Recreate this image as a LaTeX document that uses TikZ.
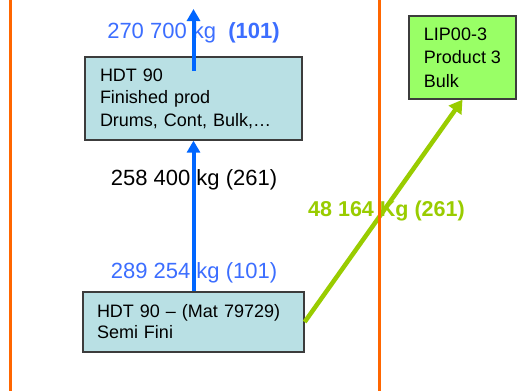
\documentclass[tikz,border=0pt]{standalone}
\usepackage{fontspec}
\setmainfont{Liberation Sans}
\usetikzlibrary{arrows.meta}
\definecolor{orangeline}{RGB}{255,102,0}
\definecolor{arrowblue}{RGB}{0,102,255}
\definecolor{labelblue}{RGB}{60,110,255}
\definecolor{limegreen}{RGB}{153,204,0}
\definecolor{boxfill}{RGB}{185,224,228}
\definecolor{greenfill}{RGB}{153,255,102}
\definecolor{boxborder}{RGB}{60,60,60}
\tikzset{
  basebox/.style={draw=boxborder, line width=1.3pt, align=left, inner ysep=0pt,
    font=\fontsize{18}{22.5}\selectfont},
  tealbox/.style={basebox, fill=boxfill},
  limebox/.style={basebox, fill=greenfill},
  flowlabel/.style={font=\fontsize{22}{25}\selectfont, inner sep=0pt},
  bluearrow/.style={draw=arrowblue, line width=4pt, -{Triangle[length=12pt,width=13pt]}},
  greenarrow/.style={draw=limegreen, line width=4.5pt, -{Triangle[length=13pt,width=15pt]}},
  divider/.style={draw=orangeline, line width=3pt}
}
\begin{document}
\begin{tikzpicture}[x=1pt,y=-1pt]
\useasboundingbox[fill=white] (0,0) rectangle (517,391);
% dividers
\coordinate (d1t) at (10,0); \coordinate (d1b) at (10,391);
\coordinate (d2t) at (379,0); \coordinate (d2b) at (379,391);
% boxes
\node[tealbox, minimum width=217pt, minimum height=83pt, text width=187pt, inner xsep=15pt] (fin) at (193.5,98.5)
  {HDT 90\\Finished prod\\Drums, Cont, Bulk,…};
\node[tealbox, minimum width=221pt, minimum height=60pt, text width=193pt, inner xsep=14pt,
  font=\fontsize{18}{21}\selectfont] (semi) at (193.5,322)
  {HDT 90 – (Mat 79729)\\Semi Fini};
\node[limebox, minimum width=107pt, minimum height=83pt, inner xsep=0pt,
  font=\fontsize{18}{23.5}\selectfont] (lip) at (462.5,57.5)
  {LIP00-3\\Product 3\\Bulk};
% labels
\node[flowlabel, text=labelblue] (l1) at (193.5,33) {270 700 kg\ \ \textbf{(101)}};
\node[flowlabel, text=black] (l2) at (194,180) {258 400 kg (261)};
\node[flowlabel, text=labelblue] (l3) at (194,273) {289 254 kg (101)};
\node[flowlabel, text=limegreen, font=\bfseries\fontsize{21.5}{24}\selectfont] (l4) at (386.5,211) {48 164 Kg (261)};
% connectors
\coordinate (finout) at (193.5,71);
\coordinate (topend) at (193.5,9);
\draw[bluearrow] (finout) -- (topend);
\draw[bluearrow] (semi.north) -- (fin.south);
\draw[greenarrow] (semi.east) -- (lip.south);
\draw[divider] (d1t) -- (d1b);
\draw[divider] (d2t) -- (d2b);
\end{tikzpicture}
\end{document}
